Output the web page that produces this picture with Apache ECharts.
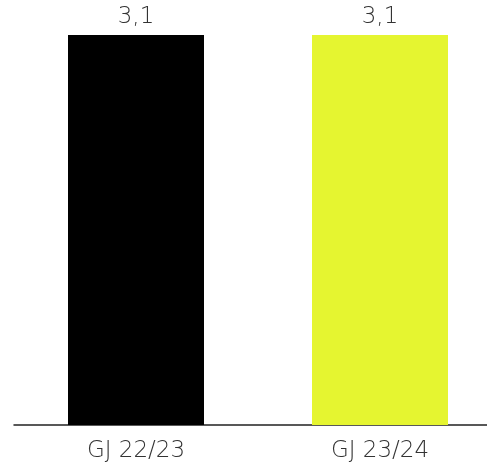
<!DOCTYPE html>
<html>
<head>
<meta charset="utf-8">
<script src="https://cdn.jsdelivr.net/npm/echarts@6/dist/echarts.min.js"></script>
<style>
  html, body { margin: 0; padding: 0; background: #fff; }
  #chart { width: 487px; height: 463px; }
</style>
</head>
<body>
<div id="chart"></div>
<script>
// Daten
var categories = ['GJ 22/23', 'GJ 23/24'];
var values = [3.1, 3.1];
var barColors = ['#000000', '#e5f530'];

(function () {
  var myChart = echarts.init(document.getElementById('chart'));
  var option = {
    animation: false,
    grid: { left: 14, width: 488, top: 35, height: 390, outerBoundsMode: 'none', containLabel: false },
    xAxis: {
      type: 'category',
      data: categories,
      axisTick: { show: false },
      axisLine: { lineStyle: { color: '#222', width: 1.5 } },
      axisLabel: {
        color: '#333',
        fontSize: 23,
        fontFamily: 'DejaVu Sans',
        fontWeight: 200,
        margin: 15
      }
    },
    yAxis: {
      type: 'value',
      min: 0,
      max: 3.1,
      show: false,
      splitLine: { show: false }
    },
    series: [
      {
        type: 'bar',
        barWidth: 136,
        data: values.map(function (v, i) {
          return { value: v, itemStyle: { color: barColors[i] } };
        }),
        label: {
          show: true,
          position: 'top',
          distance: 6,
          color: '#333',
          fontSize: 23,
          fontFamily: 'DejaVu Sans',
          fontWeight: 200,
          formatter: function (p) {
            return String(p.value).replace('.', ',');
          }
        }
      }
    ]
  };
  myChart.setOption(option);
})();
</script>
</body>
</html>
